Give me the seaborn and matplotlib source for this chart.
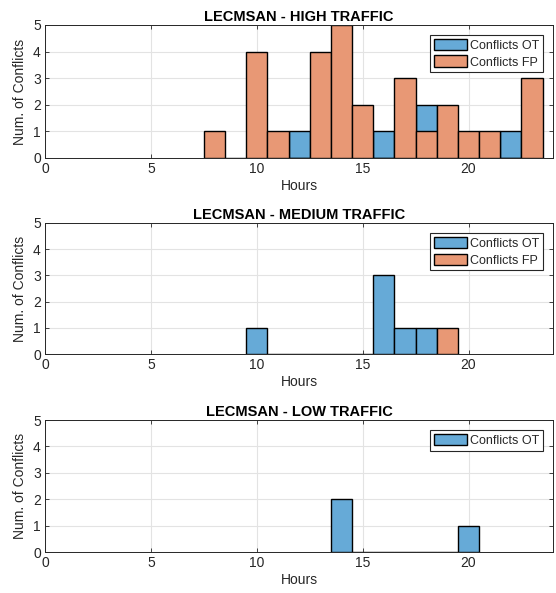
import numpy as np
import pandas as pd
import matplotlib
matplotlib.use("Agg")
import matplotlib.pyplot as plt
import seaborn as sns
from matplotlib.patches import Patch

# ---- data (hour bin centres and counts) ----
high_ot_hours = [12, 13, 14, 15, 16, 17, 18, 19, 20, 21, 22]
high_ot_counts = [1, 0, 0, 0, 1, 0, 2, 0, 0, 0, 1]
high_fp_hours = [8, 9, 10, 11, 12, 13, 14, 15, 16, 17, 18, 19, 20, 21, 22, 23]
high_fp_counts = [1, 0, 4, 1, 0, 4, 5, 2, 0, 3, 1, 2, 1, 1, 0, 3]

med_ot_hours = [10, 11, 12, 13, 14, 15, 16, 17, 18]
med_ot_counts = [1, 0, 0, 0, 0, 0, 3, 1, 1]
med_fp_hours = [19]
med_fp_counts = [1]

low_ot_hours = [14, 15, 16, 17, 18, 19, 20]
low_ot_counts = [2, 0, 0, 0, 0, 0, 1]

titles = ["LECMSAN - HIGH TRAFFIC", "LECMSAN - MEDIUM TRAFFIC", "LECMSAN - LOW TRAFFIC"]
x_ticks = [0, 5, 10, 15, 20]
y_ticks = [0, 1, 2, 3, 4, 5]

OT_COLOR = "#66AAD7"
FP_COLOR = "#E89875"
TXT = "#262626"

sns.set_style("white")
plt.rcParams["font.family"] = ["Liberation Sans", "DejaVu Sans"]

fig = plt.figure(figsize=(5.56, 5.93), dpi=100)
positions = [
    [0.081, 0.7336, 0.914, 0.2244],
    [0.081, 0.4030, 0.914, 0.2210],
    [0.081, 0.0690, 0.914, 0.2226],
]

panels = [
    [(high_ot_hours, high_ot_counts, OT_COLOR, "Conflicts OT"),
     (high_fp_hours, high_fp_counts, FP_COLOR, "Conflicts FP")],
    [(med_ot_hours, med_ot_counts, OT_COLOR, "Conflicts OT"),
     (med_fp_hours, med_fp_counts, FP_COLOR, "Conflicts FP")],
    [(low_ot_hours, low_ot_counts, OT_COLOR, "Conflicts OT")],
]

for pos, title, series in zip(positions, titles, panels):
    ax = fig.add_axes(pos)
    ax.set_axisbelow(True)
    ax.grid(True, color="#e3e3e3", linewidth=0.8)
    handles = []
    for hours, counts, color, label in series:
        df = pd.DataFrame({"hour": hours, "count": counts})
        sns.histplot(data=df, x="hour", weights="count", discrete=True,
                     color=color, alpha=1.0, edgecolor="black", linewidth=1.0,
                     ax=ax, zorder=2)
        handles.append(Patch(facecolor=color, edgecolor="black", linewidth=1.0, label=label))
    ax.set_xlim(0, 24)
    ax.set_ylim(0, 5)
    ax.set_xticks(x_ticks)
    ax.set_yticks(y_ticks)
    ax.tick_params(direction="in", length=3, width=0.6, colors=TXT, labelsize=10,
                   top=True, right=True, bottom=True, left=True, pad=3)
    for sp in ax.spines.values():
        sp.set_visible(True)
        sp.set_color(TXT)
        sp.set_linewidth(0.7)
        sp.set_zorder(5)
    ax.set_xlabel("Hours", fontsize=10, color=TXT, labelpad=2)
    ax.set_ylabel("Num. of Conflicts", fontsize=10, color=TXT, labelpad=4)
    ax.set_title(title, fontsize=10.5, fontweight="bold", color="black", pad=3)
    leg = ax.legend(handles=handles, loc="upper right", fontsize=9,
                    fancybox=False, framealpha=1, edgecolor="#262626",
                    handlelength=2.65, handleheight=1.05, handletextpad=0.25,
                    borderpad=0.3, labelspacing=0.3, borderaxespad=0.8)
    leg.get_frame().set_linewidth(0.8)

fig.savefig("out.png", dpi=100)
